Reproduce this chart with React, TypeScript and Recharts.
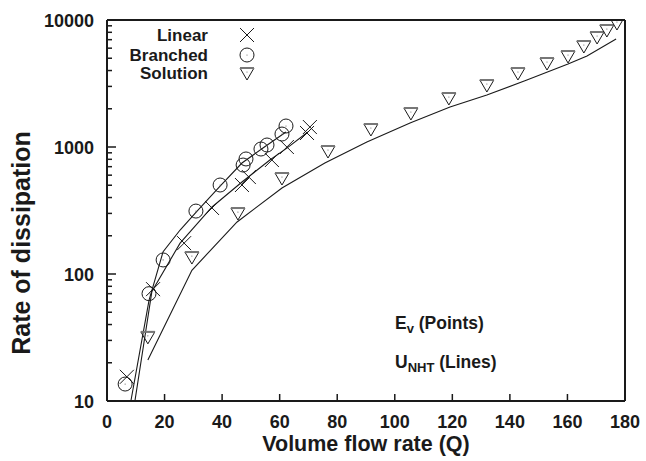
import { ComposedChart, Line, Scatter, XAxis, YAxis, Customized } from 'recharts'

// ---------------------------------------------------------------------------
// Data
// ---------------------------------------------------------------------------

const linearPoints = [
  { x: 6.9, y: 15.5 },
  { x: 16.0, y: 76 },
  { x: 26.8, y: 175 },
  { x: 36.5, y: 331 },
  { x: 46.9, y: 502 },
  { x: 49.3, y: 580 },
  { x: 57.3, y: 790 },
  { x: 62.5, y: 1000 },
  { x: 69.5, y: 1289 },
  { x: 70.5, y: 1436 },
]

const branchedPoints = [
  { x: 6.3, y: 13.6 },
  { x: 14.6, y: 70 },
  { x: 19.5, y: 129 },
  { x: 30.9, y: 313 },
  { x: 39.3, y: 502 },
  { x: 47.3, y: 721 },
  { x: 48.3, y: 805 },
  { x: 53.5, y: 964 },
  { x: 55.6, y: 1037 },
  { x: 60.8, y: 1265 },
  { x: 62.2, y: 1463 },
]

const solutionPoints = [
  { x: 14.2, y: 32 },
  { x: 29.5, y: 136 },
  { x: 45.5, y: 302 },
  { x: 60.8, y: 570 },
  { x: 76.8, y: 930 },
  { x: 91.7, y: 1386 },
  { x: 105.6, y: 1853 },
  { x: 118.8, y: 2432 },
  { x: 132.0, y: 3077 },
  { x: 142.8, y: 3826 },
  { x: 152.9, y: 4585 },
  { x: 160.2, y: 5208 },
  { x: 165.7, y: 6240 },
  { x: 170.3, y: 7350 },
  { x: 173.7, y: 8340 },
  { x: 177.2, y: 9470 },
]

const linearLine = [
  { x: 9.7, y: 10 },
  { x: 15.6, y: 73 },
  { x: 25.4, y: 175 },
  { x: 36.5, y: 337 },
  { x: 46.9, y: 530 },
  { x: 56.6, y: 790 },
  { x: 62.5, y: 980 },
  { x: 69.8, y: 1312 },
]

const branchedLine = [
  { x: 8.3, y: 10 },
  { x: 14.6, y: 62 },
  { x: 19.5, y: 150 },
  { x: 25.4, y: 222 },
  { x: 31.3, y: 313 },
  { x: 39.3, y: 493 },
  { x: 46.9, y: 748 },
  { x: 54.2, y: 982 },
  { x: 62.2, y: 1312 },
]

const solutionLine = [
  { x: 14.2, y: 21 },
  { x: 29.5, y: 107 },
  { x: 45.2, y: 257 },
  { x: 60.8, y: 475 },
  { x: 75.7, y: 748 },
  { x: 90.3, y: 1095 },
  { x: 105.3, y: 1545 },
  { x: 119.2, y: 2065 },
  { x: 132.0, y: 2567 },
  { x: 145.9, y: 3370 },
  { x: 160.2, y: 4505 },
  { x: 166.8, y: 5208 },
  { x: 176.9, y: 7080 },
]

const xTicks = [0, 20, 40, 60, 80, 100, 120, 140, 160, 180]
const yTicks = [
  10, 20, 30, 40, 50, 60, 70, 80, 90,
  100, 200, 300, 400, 500, 600, 700, 800, 900,
  1000, 2000, 3000, 4000, 5000, 6000, 7000, 8000, 9000,
  10000,
]
const yLabels = [10, 100, 1000, 10000]

// ---------------------------------------------------------------------------
// Styling helpers
// ---------------------------------------------------------------------------

const FONT = '"Liberation Sans", Arial, sans-serif'
const INK = '#1a1a1a'

function isMajor(v: number): boolean {
  return yLabels.includes(v)
}

function BottomTick({ x, y, payload }: any) {
  return (
    <g>
      <line x1={x} y1={y} x2={x} y2={y - 7} stroke={INK} strokeWidth={1.5} />
      <text
        x={x}
        y={y + 27}
        textAnchor="middle"
        fontFamily={FONT}
        fontWeight="bold"
        fontSize={18}
        fill={INK}
      >
        {payload.value}
      </text>
    </g>
  )
}

function TopTick({ x, y }: any) {
  return <line x1={x} y1={y} x2={x} y2={y + 7} stroke={INK} strokeWidth={1.5} />
}

function LeftTick({ x, y, payload }: any) {
  const major = isMajor(payload.value)
  return (
    <g>
      <line x1={x} y1={y} x2={x + (major ? 9 : 5)} y2={y} stroke={INK} strokeWidth={1.5} />
      {major && (
        <text
          x={x - 13}
          y={y + 7}
          textAnchor="end"
          fontFamily={FONT}
          fontWeight="bold"
          fontSize={18}
          fill={INK}
        >
          {payload.value}
        </text>
      )}
    </g>
  )
}

function RightTick({ x, y, payload }: any) {
  const major = isMajor(payload.value)
  return <line x1={x} y1={y} x2={x - (major ? 9 : 5)} y2={y} stroke={INK} strokeWidth={1.5} />
}

function CrossMark({ cx, cy }: any) {
  const s = 7
  return (
    <g stroke={INK} strokeWidth={1}>
      <line x1={cx - s} y1={cy - s} x2={cx + s} y2={cy + s} />
      <line x1={cx - s} y1={cy + s} x2={cx + s} y2={cy - s} />
    </g>
  )
}

function CircleMark({ cx, cy }: any) {
  return (
    <g>
      <circle cx={cx} cy={cy} r={7} fill="none" stroke={INK} strokeWidth={1} />
      <circle cx={cx} cy={cy} r={0.6} fill="#666" />
    </g>
  )
}

function TriangleMark({ cx, cy }: any) {
  const s = 7
  return (
    <g>
      <polygon
        points={`${cx - s},${cy - 5} ${cx + s},${cy - 5} ${cx},${cy + 7}`}
        fill="none"
        stroke={INK}
        strokeWidth={1}
      />
      <line x1={cx - s} y1={cy - 5} x2={cx + s} y2={cy - 5} stroke="#777" strokeWidth={2} />
      <circle cx={cx} cy={cy - 1} r={0.6} fill="#666" />
    </g>
  )
}

function Annotations() {
  const legendX = 208
  const markX = 247
  const rows = [
    { label: 'Linear', y: 35, Mark: CrossMark },
    { label: 'Branched', y: 55, Mark: CircleMark },
    { label: 'Solution', y: 73, Mark: TriangleMark },
  ]
  return (
    <g fontFamily={FONT} fontWeight="bold" fill={INK}>
      {rows.map(({ label, y, Mark }) => (
        <g key={label}>
          <text x={legendX} y={y + 6} textAnchor="end" fontSize={17}>
            {label}
          </text>
          <Mark cx={markX} cy={y} />
        </g>
      ))}
      <text x={395} y={329} fontSize={17.5}>
        E
        <tspan fontSize={13} dy={4}>
          v
        </tspan>
        <tspan dy={-4}> (Points)</tspan>
      </text>
      <text x={395} y={368} fontSize={17.5}>
        U
        <tspan fontSize={13} dy={4}>
          NHT
        </tspan>
        <tspan dy={-4}> (Lines)</tspan>
      </text>
      <text x={366} y={451} textAnchor="middle" fontSize={21.5}>
        Volume flow rate (Q)
      </text>
      <text
        x={0}
        y={0}
        transform="translate(30,243) rotate(-90)"
        textAnchor="middle"
        fontSize={25}
      >
        Rate of dissipation
      </text>
    </g>
  )
}

// ---------------------------------------------------------------------------
// Chart
// ---------------------------------------------------------------------------

export default function App(): React.JSX.Element {
  return (
    <div style={{ position: 'absolute', left: 0, top: 0, background: '#fff' }}>
      <ComposedChart
        width={646}
        height={461}
        margin={{ top: 0, right: 0, bottom: 0, left: 0 }}
      >
        <XAxis
          xAxisId="bottom"
          dataKey="x"
          type="number"
          domain={[0, 180]}
          ticks={xTicks}
          orientation="bottom"
          height={60}
          tickSize={0}
          tickMargin={0}
          tick={<BottomTick />}
          axisLine={{ stroke: INK, strokeWidth: 2 }}
          allowDataOverflow
        />
        <XAxis
          xAxisId="top"
          dataKey="x"
          type="number"
          domain={[0, 180]}
          ticks={xTicks}
          orientation="top"
          height={20}
          tickSize={0}
          tickMargin={0}
          tick={<TopTick />}
          axisLine={{ stroke: INK, strokeWidth: 2 }}
        />
        <YAxis
          yAxisId="left"
          dataKey="y"
          scale="log"
          type="number"
          domain={[10, 10000]}
          ticks={yTicks}
          interval={0}
          orientation="left"
          width={107}
          tickSize={0}
          tickMargin={0}
          tick={<LeftTick />}
          axisLine={{ stroke: INK, strokeWidth: 2 }}
          allowDataOverflow
        />
        <YAxis
          yAxisId="right"
          dataKey="y"
          scale="log"
          type="number"
          domain={[10, 10000]}
          ticks={yTicks}
          interval={0}
          orientation="right"
          width={21}
          tickSize={0}
          tickMargin={0}
          tick={<RightTick />}
          axisLine={{ stroke: INK, strokeWidth: 2 }}
        />
        <Line
          xAxisId="bottom"
          yAxisId="left"
          data={linearLine}
          dataKey="y"
          stroke={INK}
          strokeWidth={1.1}
          dot={false}
          type="linear"
          isAnimationActive={false}
        />
        <Line
          xAxisId="bottom"
          yAxisId="left"
          data={branchedLine}
          dataKey="y"
          stroke={INK}
          strokeWidth={1.1}
          dot={false}
          type="linear"
          isAnimationActive={false}
        />
        <Line
          xAxisId="bottom"
          yAxisId="left"
          data={solutionLine}
          dataKey="y"
          stroke={INK}
          strokeWidth={1.1}
          dot={false}
          type="linear"
          isAnimationActive={false}
        />
        <Scatter
          xAxisId="bottom"
          yAxisId="left"
          data={linearPoints}
          dataKey="y"
          shape={<CrossMark />}
          isAnimationActive={false}
        />
        <Scatter
          xAxisId="bottom"
          yAxisId="left"
          data={branchedPoints}
          dataKey="y"
          shape={<CircleMark />}
          isAnimationActive={false}
        />
        <Scatter
          xAxisId="bottom"
          yAxisId="left"
          data={solutionPoints}
          dataKey="y"
          shape={<TriangleMark />}
          isAnimationActive={false}
        />
        <Customized component={<Annotations />} />
      </ComposedChart>
    </div>
  )
}
